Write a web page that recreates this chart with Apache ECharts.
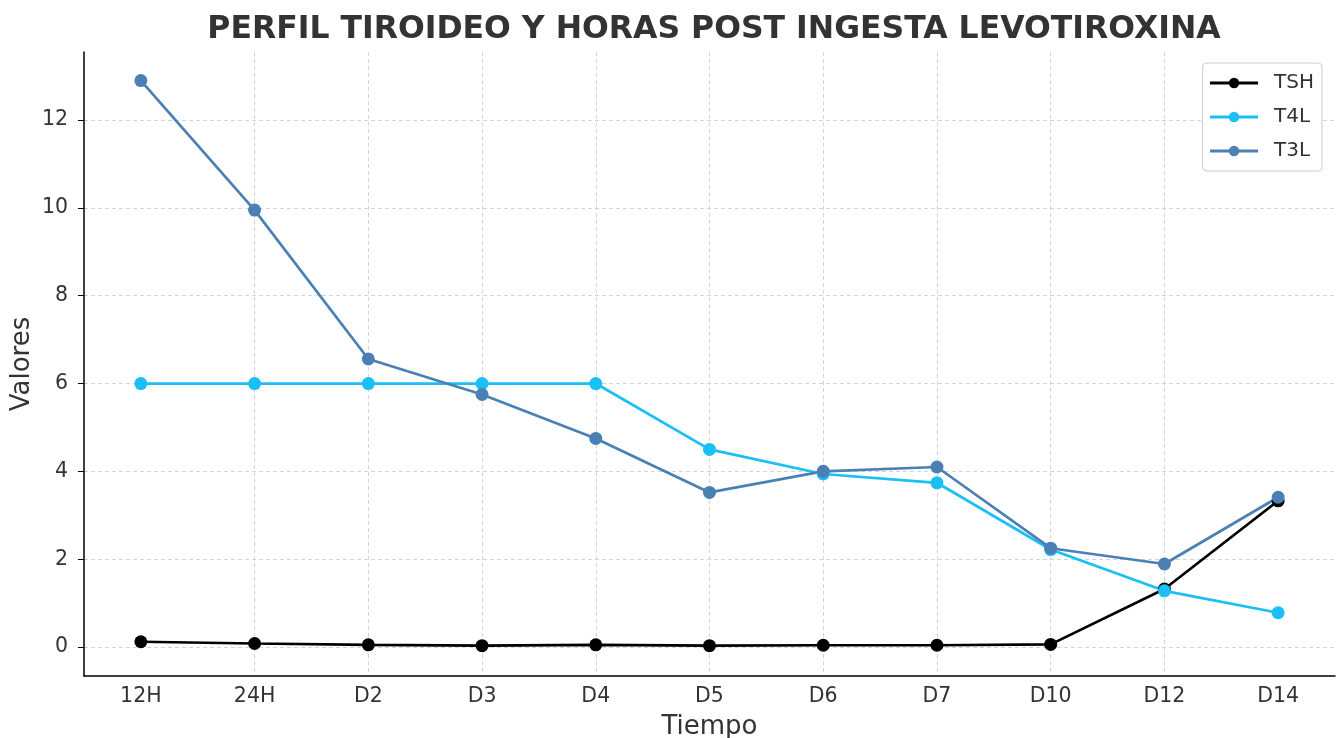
<!DOCTYPE html>
<html>
	<head>
		<meta charset="utf-8">
		<title>Perfil tiroideo</title>
		<script src="https://cdn.jsdelivr.net/npm/echarts@6/dist/echarts.min.js"></script>
		<style>
			body { margin: 0; background: #fff; }
		</style>
	</head>
	<body>
		<div id="box" style="width: 1340px;height: 738px;"></div>
		<script>
			var tiempos = ['12H', '24H', 'D2', 'D3', 'D4', 'D5', 'D6', 'D7', 'D10', 'D12', 'D14']
			var tsh = [0.12, 0.08, 0.05, 0.03, 0.05, 0.03, 0.04, 0.04, 0.06, 1.32, 3.33]
			var t4l = [6.0, 6.0, 6.0, 6.0, 6.0, 4.5, 3.94, 3.74, 2.22, 1.28, 0.78]
			var t3l = [12.9, 9.95, 6.56, 5.75, 4.75, 3.52, 4.0, 4.1, 2.25, 1.89, 3.41]

			var font = 'DejaVu Sans'
			var gridLine = { show: true, showMinLine: false, showMaxLine: false, lineStyle: { color: '#d4d4d4', type: [4, 3], width: 1 } }

			function serie(nombre, datos, color) {
				return {
					name: nombre,
					type: 'line',
					data: datos,
					symbol: 'circle',
					symbolSize: 13,
					lineStyle: { width: 2.7, color: color },
					itemStyle: { color: color },
					z: 3
				}
			}

			var mCharts = echarts.init(document.querySelector('#box'))
			var option = {
				animation: false,
				textStyle: { fontFamily: font },
				title: {
					text: 'PERFIL TIROIDEO Y HORAS POST INGESTA LEVOTIROXINA',
					left: 709,
					top: 9,
					textAlign: 'center',
					textStyle: { fontFamily: font, fontSize: 31.5, fontWeight: 'bold', color: '#333' }
				},
				legend: {
					orient: 'vertical',
					right: 18,
					top: 63,
					itemWidth: 48,
					itemHeight: 13,
					itemGap: 14,
					padding: [10, 8, 10, 6],
					borderColor: '#ccc',
					borderWidth: 1,
					borderRadius: 4,
					backgroundColor: '#fff',
					itemStyle: { borderWidth: 0 },
					lineStyle: { width: 3 },
					textStyle: { fontSize: 20, color: '#333', padding: [0, 0, 0, 11] },
					data: ['TSH', 'T4L', 'T3L']
				},
				grid: { left: 84, right: 5, top: 52, bottom: 62, outerBoundsMode: 'none' },
				xAxis: {
					type: 'category',
					data: tiempos,
					boundaryGap: true,
					name: 'Tiempo',
					nameLocation: 'middle',
					nameGap: 38,
					nameTextStyle: { fontSize: 26, color: '#333' },
					axisLine: { onZero: false, lineStyle: { color: '#000', width: 1.5 } },
					axisTick: { alignWithLabel: true, length: 6, lineStyle: { color: '#000' } },
					axisLabel: { fontSize: 20.5, color: '#333', margin: 10 },
					splitLine: Object.assign({ alignWithLabel: true }, gridLine)
				},
				yAxis: {
					type: 'value',
					min: -0.66,
					max: 13.55,
					splitNumber: 7,
					name: 'Valores',
					nameLocation: 'middle',
					nameGap: 49,
					nameMoveOverlap: false,
					nameTextStyle: { fontSize: 26, color: '#333' },
					axisLine: { show: true, lineStyle: { color: '#000', width: 1.5 } },
					axisTick: { show: true, length: 6, lineStyle: { color: '#000' } },
					axisLabel: { fontSize: 20.5, color: '#333', margin: 16, showMinLabel: false, showMaxLabel: false },
					splitLine: gridLine
				},
				series: [
					serie('TSH', tsh, '#000000'),
					serie('T4L', t4l, '#1ABFF5'),
					serie('T3L', t3l, '#4A80B4')
				]
			}
			mCharts.setOption(option)
		</script>
	</body>
</html>
